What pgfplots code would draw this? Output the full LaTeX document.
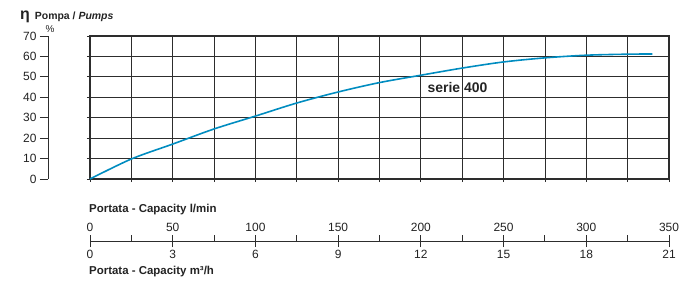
\documentclass[border=0pt]{standalone}
\usepackage{fontspec}
\setmainfont{Liberation Sans}
\usepackage{pgfplots}
\pgfplotsset{compat=1.18}
\definecolor{curve}{RGB}{0,140,192}
\definecolor{gridc}{RGB}{45,45,45}
\definecolor{txt}{RGB}{35,35,35}
\begin{document}
\begin{tikzpicture}
\path[use as bounding box] (-90bp,-104bp) rectangle (608bp,179bp);
\pgfplotsset{every axis/.append style={/pgf/number format/assume math mode=true,
  tick label style={font=\fontsize{12}{14}\selectfont, text=txt}}}
% main grid
\begin{axis}[at={(0,0)}, anchor=south west, scale only axis, width=579bp, height=143bp,
  xmin=0, xmax=350, ymin=0, ymax=70,
  xtick={0,25,...,350}, ytick={0,10,...,70}, xticklabels={}, yticklabels={},
  grid=major, major grid style={gridc, line width=0.8pt},
  axis line style={gridc, line width=1.3pt},
  tick pos=left, tick align=outside, major tick length=3bp,
  tick style={gridc, line width=0.8pt}, clip=false]
\addplot[curve, line width=1.6pt, smooth, tension=0.5] coordinates {
(0,0) (25,9.8) (50,17.1) (75,24.5) (100,30.8) (125,37.2) (150,42.6) (175,47.2)
(200,50.8) (225,54.3) (250,57.3) (275,59.3) (300,60.6) (325,61.1) (340,61.2)};
\node[anchor=west, font=\bfseries\fontsize{14}{16}\selectfont, text=txt, inner sep=0pt] at (axis cs:204,44.7) {serie 400};
\end{axis}
% left y axis
\begin{axis}[at={(-42bp,0)}, anchor=south west, scale only axis, width=1bp, height=143bp,
  xmin=0, xmax=1, ymin=0, ymax=70, ytick={0,10,...,70},
  axis y line=left, hide x axis, axis line style={-, gridc, line width=0.9pt},
  tick align=outside, major tick length=8bp, tick style={gridc, line width=0.9pt}]
\end{axis}
% bottom axis: major ticks and upper labels
\begin{axis}[at={(0,-63bp)}, anchor=south west, scale only axis, width=579bp, height=1bp,
  xmin=0, xmax=350, ymin=0, ymax=1, xtick={0,50,...,350},
  axis x line=top, hide y axis, axis line style={-, gridc, line width=0.9pt},
  xtick align=center, major tick length=12bp, tick style={gridc, line width=0.9pt}]
\end{axis}
% minor ticks above
\begin{axis}[at={(0,-63bp)}, anchor=south west, scale only axis, width=579bp, height=1bp,
  xmin=0, xmax=350, ymin=0, ymax=1, xtick={25,75,...,325}, xticklabels={},
  axis x line=top, hide y axis, axis line style={-, gridc, line width=0.9pt},
  xtick align=outside, major tick length=6bp, tick style={gridc, line width=0.9pt}]
\end{axis}
% lower labels
\begin{axis}[at={(0,-62bp)}, anchor=south west, scale only axis, width=579bp, height=1bp,
  xmin=0, xmax=21, ymin=0, ymax=1, xtick={0,3,...,21},
  axis x line=bottom, hide y axis, axis line style={-, gridc, line width=0.9pt},
  xtick align=outside, major tick length=6bp, tick style={gridc, line width=0.9pt}]
\end{axis}
% texts
\node[anchor=west, inner sep=0pt, text=txt, font=\bfseries\fontsize{11.5}{13}\selectfont] at (-1bp,-31bp) {Portata - Capacity l/min};
\node[anchor=west, inner sep=0pt, text=txt, font=\bfseries\fontsize{11.5}{13}\selectfont] at (-1bp,-93bp) {Portata - Capacity m³/h};
\node[anchor=base west, inner sep=0pt, text=txt] at (-70bp,159bp) {{\bfseries\fontsize{16}{16}\selectfont η}\hspace{5bp}{\bfseries\fontsize{10.5}{12}\selectfont Pompa / \itshape Pumps}};
\node[anchor=center, inner sep=0pt, text=txt, font=\fontsize{10}{12}\selectfont] at (-40bp,150bp) {\%};
\end{tikzpicture}
\end{document}
